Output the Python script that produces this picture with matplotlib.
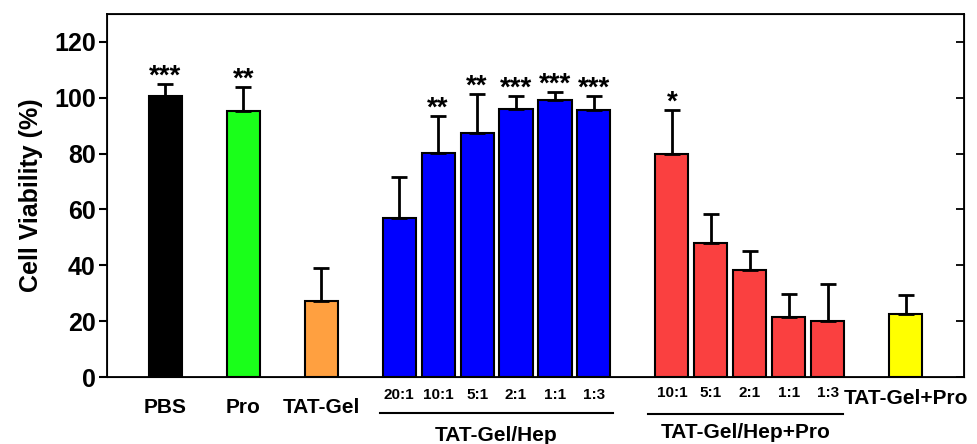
import matplotlib.pyplot as plt
import matplotlib.transforms as mtransforms
import numpy as np

plt.rcParams['font.family'] = ['Liberation Sans', 'DejaVu Sans']
plt.rcParams['font.weight'] = 'bold'

# data
single_names = ['PBS', 'Pro', 'TAT-Gel']
single_vals = [100.5, 95.1, 27.3]
single_err = [4.4, 8.9, 11.7]
single_colors = ['#000000', '#1aff1a', '#ffa040']
single_stars = ['***', '**', '']

hep_ratios = ['20:1', '10:1', '5:1', '2:1', '1:1', '1:3']
hep_vals = [57.1, 80.2, 87.3, 95.9, 99.3, 95.6]
hep_err = [14.6, 13.1, 14.0, 4.8, 2.9, 4.9]
hep_stars = ['', '**', '**', '***', '***', '***']

pro_ratios = ['10:1', '5:1', '2:1', '1:1', '1:3']
pro_vals = [79.8, 48.1, 38.4, 21.6, 20.2]
pro_err = [15.9, 10.3, 6.9, 8.1, 13.0]
pro_stars = ['*', '', '', '', '']

last_name = 'TAT-Gel+Pro'
last_val = 22.6
last_err = 6.8

x_single = np.array([0, 2, 4])
x_hep = np.arange(6, 12)
x_pro = np.arange(13, 18)
x_last = 19

fig = plt.figure(figsize=(9.77, 4.44), dpi=100)
ax = fig.add_axes([0.1095, 0.1509, 0.8772, 0.8176])

w = 0.85
def draw(xs, vals, errs, colors, stars):
    ax.bar(xs, vals, width=w, color=colors, edgecolor='black', linewidth=1.5, zorder=2)
    ax.errorbar(xs, vals, yerr=[np.zeros(len(vals)), errs], fmt='none', ecolor='black',
                elinewidth=2, capsize=6, capthick=2, zorder=3)
    for x, v, e, s in zip(xs, vals, errs, stars):
        if s:
            ax.annotate(s, (x, v + e), xytext=(0, -4), textcoords='offset points',
                        ha='center', va='bottom', fontsize=20, fontweight='bold')

draw(x_single, single_vals, single_err, single_colors, single_stars)
draw(x_hep, hep_vals, hep_err, ['#0000ff'] * 6, hep_stars)
draw(x_pro, pro_vals, pro_err, ['#fa4040'] * 5, pro_stars)
draw([x_last], [last_val], [last_err], ['#ffff00'], [''])

ax.set_xlim(-1.5, 20.5)
ax.set_ylim(0, 130)
ax.set_yticks(np.arange(0, 121, 20))
ax.set_xticks([])
ax.tick_params(axis='y', direction='out', length=6, width=1.5, labelsize=18, pad=2)
for sp in ax.spines.values():
    sp.set_linewidth(1.3)
ax.set_ylabel('Cell Viability (%)', fontsize=18, fontweight='bold', labelpad=8)

ax2 = ax.twinx()
ax2.set_ylim(0, 130)
ax2.set_yticks(np.arange(0, 121, 20))
ax2.tick_params(axis='y', direction='in', length=6, width=1.3, labelright=False)

tr = ax.get_xaxis_transform()
def lab(x, text, dy, size):
    ax.annotate(text, (x, 0), xycoords=tr, xytext=(0, dy), textcoords='offset pixels',
                ha='center', va='center', fontsize=size, fontweight='bold')

for x, n in zip(x_single, single_names):
    lab(x, n, -30, 15)
lab(x_last, last_name, -21, 15)
for x, r in zip(x_hep, hep_ratios):
    lab(x, r, -18, 11)
for x, r in zip(x_pro, pro_ratios):
    lab(x, r, -16, 11)

def group(x0, x1, text, dy_line, dy_text):
    off = mtransforms.ScaledTranslation(0, dy_line / 100, fig.dpi_scale_trans)
    line = plt.Line2D([x0, x1], [0, 0], transform=tr + off, color='black', lw=1.5, clip_on=False)
    ax.add_line(line)
    lab((x0 + x1) / 2, text, dy_text, 15)

group(5.5, 11.5, 'TAT-Gel/Hep', -36, -58)
group(12.4, 17.4, 'TAT-Gel/Hep+Pro', -37, -55)

fig.savefig('out.png', dpi=100)
